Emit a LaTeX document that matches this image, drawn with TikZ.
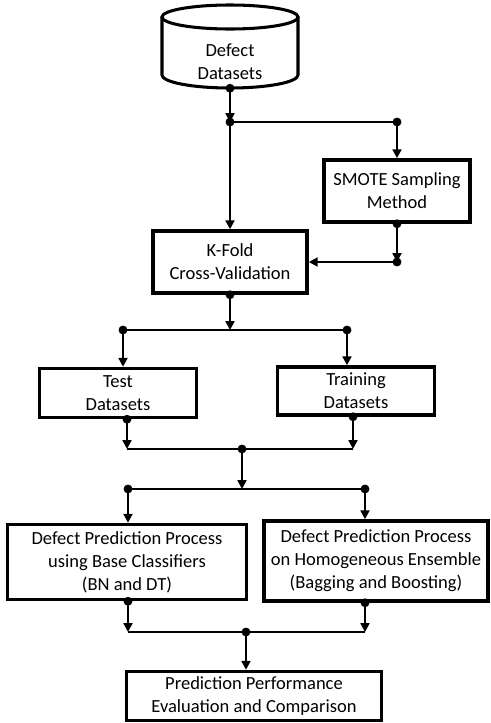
\documentclass[tikz,border=0pt]{standalone}
\usepackage{fontspec}
\setmainfont{Carlito}
\usetikzlibrary{arrows.meta}

\begin{document}
\begin{tikzpicture}[x=0.03cm,y=-0.03cm,>={Triangle[length=7.5pt,width=7.5pt]},
        font=\fontsize{15.8}{19.6}\selectfont,
        box/.style={draw,line width=3pt,align=center,inner sep=0pt},
        flow/.style={line width=2.5pt,->},
        bar/.style={line width=2.5pt}]
        \useasboundingbox (0,0) rectangle (490,723);    % 490x723 的画布

        % 数据库 (圆柱)
        \draw[line width=2.6pt] (230,17) ellipse[x radius=68,y radius=12];
        \draw[line width=2.6pt] (162,17) -- (162,75) arc[start angle=180,end angle=0,x radius=68,y radius=13] -- (298,17);
        \node[align=center,minimum width=4.08cm,minimum height=1.56cm] (data) at (230,62) {Defect\\Datasets};

        % 方框
        \node[box,minimum width=4.38cm,minimum height=1.86cm] (smote) at (397,191) {SMOTE Sampling\\Method};
        \node[box,minimum width=4.62cm,minimum height=1.86cm] (kfold) at (230,262) {K-Fold\\Cross-Validation};
        \node[box,minimum width=4.71cm,minimum height=1.47cm] (test) at (118,393) {Test\\Datasets};
        \node[box,minimum width=4.71cm,minimum height=1.44cm] (train) at (356,391) {Training\\Datasets};
        \node[box,minimum width=7.17cm,minimum height=2.25cm] (base) at (127,562) {Defect Prediction Process\\using Base Classifiers\\(BN and DT)};
        \node[box,minimum width=6.72cm,minimum height=2.4cm] (ens) at (376,561) {Defect Prediction Process\\on Homogeneous Ensemble\\(Bagging and Boosting)};
        \node[box,minimum width=7.65cm,minimum height=1.47cm] (eval) at (254,696) {Prediction Performance\\Evaluation and Comparison};

        % 分支点
        \coordinate (j1) at (230,122);  \coordinate (j1r) at (397,122);
        \coordinate (j2) at (397,262);
        \coordinate (j3) at (230,330);  \coordinate (j3l) at (123,330);  \coordinate (j3r) at (347,330);
        \coordinate (j4) at (242,449);  \coordinate (j4l) at (127,449);  \coordinate (j4r) at (353,449);
        \coordinate (j5) at (242,489);  \coordinate (j5l) at (128,489);  \coordinate (j5r) at (365,489);
        \coordinate (j6) at (246,632);  \coordinate (j6l) at (128,632);  \coordinate (j6r) at (365,632);

        \draw[flow] (data.south) -- (j1);
        \draw[bar] (j1) -- (j1r);
        \draw[flow] (j1r) -- (smote.north);
        \draw[flow] (j1) -- (kfold.north);
        \draw[flow] (smote.south) -- (j2);
        \draw[flow] (j2) -- (kfold.east);

        \draw[flow] (kfold.south) -- (j3);
        \draw[bar] (j3l) -- (j3r);
        \draw[flow] (j3l) -- (j3l |- test.north);
        \draw[flow] (j3r) -- (j3r |- train.north);

        \draw[flow] (test.south -| j4l) -- (j4l);
        \draw[flow] (train.south -| j4r) -- (j4r);
        \draw[bar] (j4l) -- (j4r);
        \draw[flow] (j4) -- (j5);
        \draw[bar] (j5l) -- (j5r);
        \draw[flow] (j5l) -- (j5l |- base.north);
        \draw[flow] (j5r) -- (j5r |- ens.north);

        \draw[flow] (base.south -| j6l) -- (j6l);
        \draw[flow] (ens.south -| j6r) -- (j6r);
        \draw[bar] (j6l) -- (j6r);
        \draw[flow] (j6) -- (eval.north -| j6);

        % 圆点
        \foreach \p in {data.south,j1,j1r,smote.south,j2,kfold.south,j3l,j3r,test.south -| j4l,train.south -| j4r,j4,j5l,j5r,base.south -| j6l,ens.south -| j6r,j6}
            \fill (\p) circle[radius=3.8pt];
\end{tikzpicture}
\end{document}
